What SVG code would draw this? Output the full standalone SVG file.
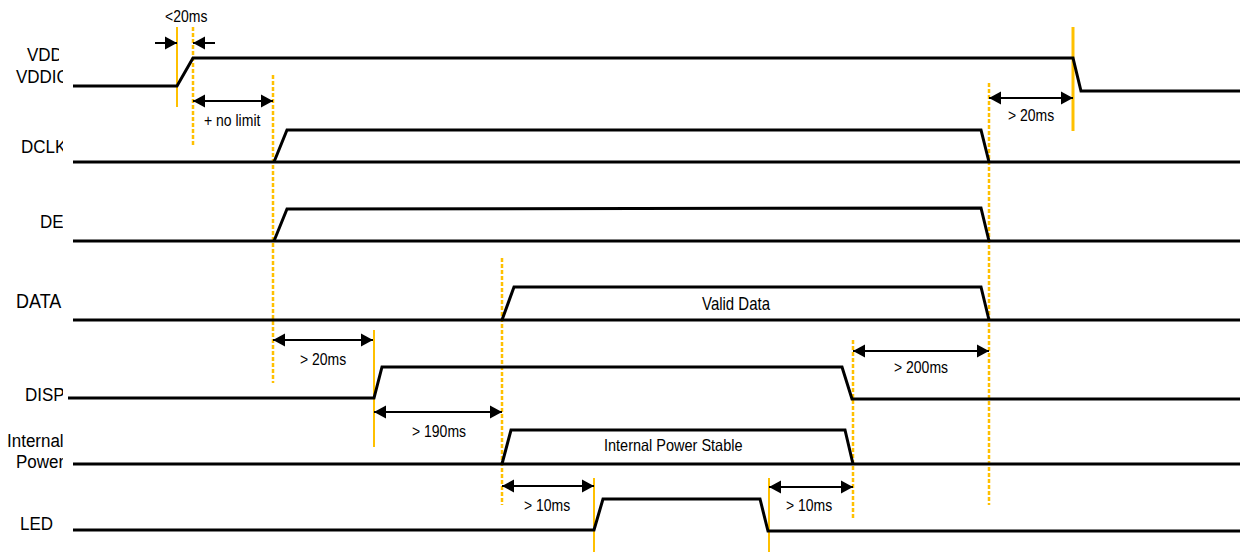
<svg xmlns="http://www.w3.org/2000/svg" width="1243" height="552" viewBox="0 0 1243 552">
<style>
.sig{fill:none;stroke:#000;stroke-width:3;stroke-linejoin:miter}
.ys{stroke:#FFC000;stroke-width:2;fill:none}
.yd{stroke:#FFC000;stroke-width:2.5;stroke-dasharray:4 2;fill:none}
.arr{stroke:#000;stroke-width:2;fill:none}
.lbl{font-family:"Liberation Sans",Arial,sans-serif;font-size:17px;fill:#000}
.ann{font-family:"Liberation Sans",Arial,sans-serif;font-size:14px;fill:#000}
</style>
<defs>
<marker id="ah" markerUnits="userSpaceOnUse" markerWidth="13" markerHeight="14" refX="12" refY="7" orient="auto-start-reverse">
<path d="M0,0.5 L12,7 L0,13.5 Z" fill="#000"/>
</marker>
<clipPath id="clipL"><rect x="0" y="0" width="63" height="552"/></clipPath>
<clipPath id="clipV"><rect x="0" y="0" width="59" height="66"/></clipPath>
</defs>
<rect width="1243" height="552" fill="#fff"/>

<g id="guides">
<line class="ys" x1="177" y1="27" x2="177" y2="107"/>
<line class="yd" x1="193" y1="27" x2="193" y2="147"/>
<line class="yd" x1="273" y1="75" x2="273" y2="383"/>
<line class="ys" x1="374" y1="330" x2="374" y2="447"/>
<line class="yd" x1="502" y1="258" x2="502" y2="505"/>
<line class="ys" x1="594" y1="478" x2="594" y2="552"/>
<line class="ys" x1="769" y1="478" x2="769" y2="552"/>
<line class="yd" x1="853" y1="340" x2="853" y2="520"/>
<line class="yd" x1="989" y1="83" x2="989" y2="505"/>
<line class="ys" x1="1073" y1="27" x2="1073" y2="131" style="stroke-width:3"/>
</g>

<g id="labels">
<g clip-path="url(#clipV)">
<text class="lbl" transform="translate(27,60.5) scale(1,1.12)">VDD</text>
</g>
<g clip-path="url(#clipL)">
<text class="lbl" transform="translate(16,83) scale(1,1.12)">VDDIC</text>
<text class="lbl" transform="translate(21,153) scale(1,1.12)">DCLK</text>
<text class="lbl" transform="translate(40,228) scale(1,1.12)">DE</text>
<text class="lbl" transform="translate(16,308) scale(1,1.12)" style="font-size:18px">DATA</text>
<text class="lbl" transform="translate(25,400.5) scale(1,1.12)">DISP</text>
<text class="lbl" transform="translate(7,447) scale(1,1.12)">Internal</text>
<text class="lbl" transform="translate(16,468) scale(1,1.12)">Power</text>
<text class="lbl" transform="translate(20,530) scale(1,1.12)">LED</text>
</g>
</g>

<g id="sig-vdd">
<path class="sig" d="M73,86 L177,86 L193,58 L1073,58 L1081,91 L1240,91"/>
</g>
<g id="sig-dclk">
<path class="sig" d="M73,162 L1240,162"/>
<path class="sig" d="M274,162 L287,130 L981,130 L989,162"/>
</g>
<g id="sig-de">
<path class="sig" d="M73,241 L1240,241"/>
<path class="sig" d="M274,241 L287,209 L981,208 L989,241"/>
</g>
<g id="sig-data">
<path class="sig" d="M73,320 L1240,320"/>
<path class="sig" d="M502,320 L514,287 L981,287 L989,320"/>
<text class="ann" transform="translate(702,310) scale(1,1.2)" style="font-size:15px">Valid Data</text>
</g>
<g id="sig-disp">
<path class="sig" d="M68,398 L374,398 L382,367 L842,367 L852,399 L1240,399"/>
</g>
<g id="sig-power">
<path class="sig" d="M73,464 L1240,464"/>
<path class="sig" d="M502,464 L511,430 L845,430 L853,464"/>
<text class="ann" transform="translate(604,451) scale(1,1.15)" style="font-size:14.5px">Internal Power Stable</text>
</g>
<g id="sig-led">
<path class="sig" d="M73,530 L594,530 L603,499 L760,499 L768,531 L1240,531"/>
</g>

<g id="connectors">
<line class="arr" x1="155" y1="43" x2="177" y2="43" marker-end="url(#ah)"/>
<line class="arr" x1="215" y1="43" x2="193" y2="43" marker-end="url(#ah)"/>
<line class="arr" x1="193" y1="101" x2="273" y2="101" marker-start="url(#ah)" marker-end="url(#ah)"/>
<line class="arr" x1="273" y1="340" x2="373" y2="340" marker-start="url(#ah)" marker-end="url(#ah)"/>
<line class="arr" x1="374" y1="412" x2="502" y2="412" marker-start="url(#ah)" marker-end="url(#ah)"/>
<line class="arr" x1="502" y1="486" x2="594" y2="486" marker-start="url(#ah)" marker-end="url(#ah)"/>
<line class="arr" x1="769" y1="487" x2="853" y2="487" marker-start="url(#ah)" marker-end="url(#ah)"/>
<line class="arr" x1="853" y1="351" x2="989" y2="351" marker-start="url(#ah)" marker-end="url(#ah)"/>
<line class="arr" x1="989" y1="98" x2="1073" y2="98" marker-start="url(#ah)" marker-end="url(#ah)"/>
</g>

<g id="annotations">
<text class="ann" transform="translate(165,22) scale(1,1.2)">&lt;20ms</text>
<text class="ann" transform="translate(204,126) scale(1,1.2)">+ no limit</text>
<text class="ann" transform="translate(300,365) scale(1,1.2)">&gt; 20ms</text>
<text class="ann" transform="translate(412,437) scale(1,1.2)">&gt; 190ms</text>
<text class="ann" transform="translate(524,511) scale(1,1.2)">&gt; 10ms</text>
<text class="ann" transform="translate(786,511) scale(1,1.2)">&gt; 10ms</text>
<text class="ann" transform="translate(894,373) scale(1,1.2)">&gt; 200ms</text>
<text class="ann" transform="translate(1008,121) scale(1,1.2)">&gt; 20ms</text>
</g>
</svg>
